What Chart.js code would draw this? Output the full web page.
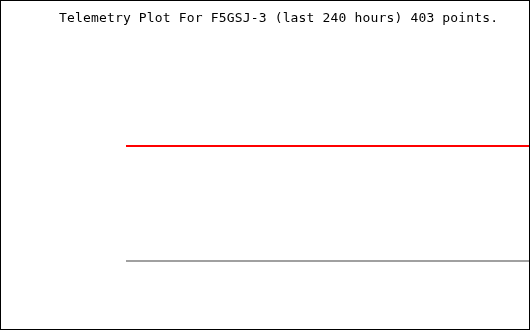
<!DOCTYPE html>
<html lang="en">
<head>
    <meta charset="UTF-8">
    <title>Telemetry Plot For F5GSJ-3</title>
    <script src="https://cdn.jsdelivr.net/npm/chart.js"></script>
    <style>
        body {
            margin: 0;
            background: #fff;
        }
        .frame {
            position: relative;
            width: 530px;
            height: 330px;
            box-sizing: border-box;
            border: 1px solid #000;
            background: #fff;
        }
        .frame canvas {
            position: absolute;
            left: 0;
            top: 0;
        }
        .title {
            position: absolute;
            left: 58px;
            top: 9px;
            font-family: "DejaVu Sans Mono", monospace;
            font-size: 13px;
            letter-spacing: 0.16px;
            line-height: 15px;
            color: #000;
            white-space: pre;
        }
    </style>
</head>
<body>
    <div class="frame">
        <canvas id="telemetry" width="528" height="328"></canvas>
        <div class="title">Telemetry Plot For F5GSJ-3 (last 240 hours) 403 points.</div>
    </div>

    <script>
        // hours relative to now (both channels flat)
        const hours = [-240, 0];
        const redValues = [61, 61];
        const grayValues = [22.7, 22.7];

        const ctx = document.getElementById('telemetry').getContext('2d');
        const chart = new Chart(ctx, {
            type: 'line',
            data: {
                datasets: [{
                    label: 'ch1',
                    data: hours.map((h, i) => ({ x: h, y: redValues[i] })),
                    borderColor: '#ff0000',
                    borderWidth: 2,
                    pointRadius: 0
                }, {
                    label: 'ch2',
                    data: hours.map((h, i) => ({ x: h, y: grayValues[i] })),
                    borderColor: '#a0a0a0',
                    borderWidth: 2,
                    pointRadius: 0
                }]
            },
            options: {
                responsive: false,
                animation: false,
                events: [],
                layout: {
                    padding: { left: 125, right: 0, top: 28, bottom: 0 }
                },
                plugins: {
                    legend: { display: false },
                    title: { display: false },
                    tooltip: { enabled: false }
                },
                scales: {
                    x: { type: 'linear', min: -240, max: 0, display: false },
                    y: { min: 0, max: 100, display: false }
                }
            }
        });
    </script>
</body>
</html>
